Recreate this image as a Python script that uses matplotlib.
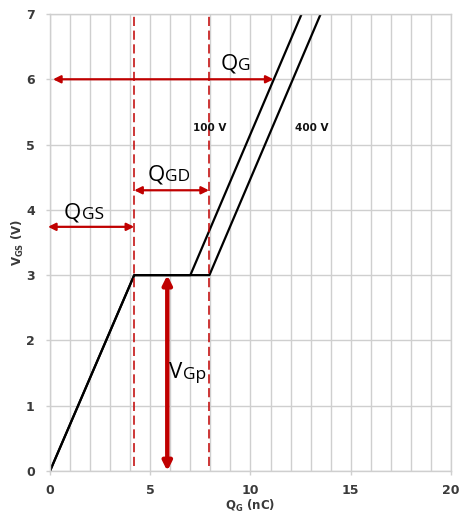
import matplotlib
matplotlib.use("Agg")
import matplotlib.pyplot as plt
from matplotlib.ticker import MultipleLocator

# Gate charge curves (V_GS vs Q_G) for two drain voltages
qg_100v = [0.0, 4.2, 7.0, 12.55]
vgs_100v = [0.0, 3.0, 3.0, 7.0]
qg_400v = [0.0, 4.2, 7.95, 13.5]
vgs_400v = [0.0, 3.0, 3.0, 7.0]

# Charge markers (nC) and plateau voltage (V)
q_gs_end = 4.2
q_gd_end = 7.93
q_g_total = 11.15
v_plateau = 3.0
vgp_x = 5.85

x_ticks = [0, 5, 10, 15, 20]
y_ticks = [0, 1, 2, 3, 4, 5, 6, 7]

RED = "#c00000"
GRID = "#cfcfcf"
TICK = "#3a3a3a"

fig = plt.figure(figsize=(4.6, 5.15), dpi=100)
ax = fig.add_axes([50 / 460, 1 - 471 / 515, 401 / 460, 457 / 515])
ax.set_xlim(0, 20)
ax.set_ylim(0, 7)

ax.xaxis.set_minor_locator(MultipleLocator(1))
ax.set_xticks(x_ticks)
ax.set_yticks(y_ticks)
ax.grid(which="both", color=GRID, lw=1.0)
ax.set_axisbelow(True)
for s in ax.spines.values():
    s.set_color(GRID)
    s.set_linewidth(1.0)
ax.tick_params(axis="both", which="major", colors=GRID, length=3, width=1,
               labelcolor=TICK, labelsize=9)
ax.tick_params(axis="x", which="minor", length=0)
for lab in ax.get_xticklabels() + ax.get_yticklabels():
    lab.set_fontweight("semibold")
ax.tick_params(axis="y", pad=8)
ax.tick_params(axis="x", pad=6)

ax.plot(qg_100v, vgs_100v, color="black", lw=1.6, solid_capstyle="butt")
ax.plot(qg_400v, vgs_400v, color="black", lw=1.6, solid_capstyle="butt")

# dashed markers for end of Q_GS and Q_GD
for xv in (q_gs_end, q_gd_end):
    ax.plot([xv, xv], [0.07, 7], color=RED, lw=1.1, ls=(0, (6, 3)))


def arrow(x0, y0, x1, y1, lw=1.6, scale=11):
    ax.annotate("", xy=(x1, y1), xytext=(x0, y0),
                arrowprops=dict(arrowstyle="<|-|>", color=RED, lw=lw,
                                mutation_scale=scale, shrinkA=0, shrinkB=0))


arrow(0.15, 6.0, q_g_total, 6.0)
arrow(q_gs_end, 4.3, q_gd_end, 4.3)
arrow(-0.1, 3.74, q_gs_end, 3.74)
arrow(vgp_x, v_plateau, vgp_x, 0.0, lw=3.2, scale=13)


def qlabel(x, y, big, small):
    t = ax.text(x, y, big, fontsize=16, family="Open Sans", va="baseline",
                ha="left", color="black")
    ax.annotate(small, xy=(1, 0), xycoords=t, xytext=(0.5, 0.3),
                textcoords="offset points", fontsize=12.5, family="Open Sans",
                va="bottom", ha="left", color="black")


qlabel(8.5, 6.15, "Q", "G")
qlabel(4.85, 4.45, "Q", "GD")
qlabel(0.7, 3.87, "Q", "GS")
qlabel(5.95, 1.42, "V", "Gp")

ax.text(7.15, 5.25, "100 V", fontsize=7.5, fontweight="bold", va="center",
        ha="left", color="#111111")
ax.text(12.2, 5.25, "400 V", fontsize=7.5, fontweight="bold", va="center",
        ha="left", color="#111111")

ax.set_xlabel(r"Q$_\mathregular{G}$ (nC)", fontsize=8.5, fontweight="bold",
              color=TICK, labelpad=1)
ax.set_ylabel(r"V$_\mathregular{GS}$ (V)", fontsize=8.5, fontweight="bold",
              color=TICK, labelpad=0)

fig.savefig("out.png", dpi=100)
